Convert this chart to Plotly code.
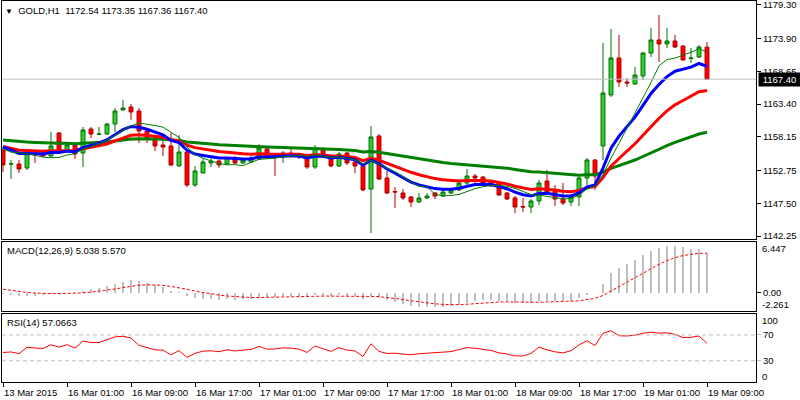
import plotly.graph_objects as go
import numpy as np

# ---------------- data ----------------
open_ = [1156.04, 1153.78, 1153.80, 1153.16, 1155.56, 1155.56, 1155.08, 1158.77, 1155.88, 1156.85,
         1155.56, 1159.41, 1158.53, 1158.61, 1160.21, 1162.46, 1162.94, 1162.30, 1159.09, 1157.97,
         1156.85, 1156.69, 1153.48, 1155.72, 1150.43, 1152.36, 1153.96, 1154.28, 1153.80, 1154.76,
         1153.96, 1154.12, 1154.60, 1156.21, 1155.08, 1154.92, 1155.56, 1155.40, 1154.92, 1153.32,
         1156.21, 1155.08, 1153.48, 1155.56, 1154.12, 1153.48, 1149.79, 1158.29, 1151.55, 1149.39,
         1149.15, 1148.51, 1147.70, 1148.35, 1149.15, 1148.67, 1149.15, 1149.63, 1150.75, 1151.87,
         1151.71, 1150.91, 1150.75, 1149.15, 1148.35, 1146.98, 1146.90, 1147.86, 1151.07, 1149.63,
         1148.18, 1147.70, 1148.51, 1151.55, 1154.44, 1156.69, 1164.87, 1170.80, 1166.95, 1166.63,
         1167.91, 1171.60, 1173.69, 1173.05, 1173.53, 1172.72, 1170.72, 1170.96, 1172.54]
high = [1156.53, 1154.44, 1154.44, 1156.21, 1155.72, 1155.72, 1158.93, 1158.93, 1157.17, 1157.17,
        1159.73, 1159.73, 1159.73, 1160.38, 1162.78, 1164.06, 1163.42, 1162.78, 1159.25, 1158.13,
        1158.13, 1158.77, 1158.45, 1155.88, 1153.48, 1154.60, 1154.92, 1154.44, 1154.92, 1155.08,
        1154.60, 1155.08, 1157.01, 1156.37, 1155.24, 1155.88, 1156.37, 1155.56, 1155.08, 1156.85,
        1156.53, 1155.24, 1155.72, 1155.72, 1154.28, 1153.96, 1159.89, 1158.61, 1152.68, 1150.11,
        1149.79, 1148.67, 1149.15, 1149.15, 1149.31, 1149.95, 1149.79, 1151.07, 1153.00, 1152.20,
        1151.87, 1151.07, 1150.91, 1149.31, 1148.67, 1148.35, 1148.18, 1151.23, 1152.84, 1150.43,
        1150.75, 1148.99, 1151.71, 1154.76, 1154.60, 1173.21, 1175.45, 1174.49, 1167.59, 1169.36,
        1171.76, 1175.61, 1177.70, 1175.61, 1174.49, 1172.88, 1172.40, 1172.88, 1173.35]
low = [1152.52, 1151.39, 1152.36, 1152.84, 1153.96, 1154.92, 1154.76, 1155.56, 1155.56, 1154.60,
       1153.32, 1157.97, 1158.45, 1158.45, 1158.93, 1162.40, 1160.86, 1157.17, 1157.17, 1155.88,
       1155.08, 1153.48, 1153.40, 1150.11, 1150.11, 1152.30, 1153.32, 1153.16, 1153.64, 1153.80,
       1153.80, 1153.96, 1154.44, 1154.60, 1151.87, 1153.96, 1155.08, 1154.60, 1153.00, 1153.00,
       1154.76, 1153.32, 1153.32, 1153.64, 1152.36, 1149.47, 1142.73, 1151.23, 1148.99, 1146.74,
       1148.03, 1146.90, 1147.54, 1148.18, 1148.18, 1148.51, 1148.99, 1149.47, 1150.43, 1150.43,
       1150.27, 1150.11, 1148.67, 1148.03, 1145.94, 1146.10, 1145.94, 1147.22, 1149.15, 1147.06,
       1147.22, 1147.06, 1147.06, 1150.43, 1149.63, 1154.44, 1164.54, 1166.15, 1166.15, 1166.47,
       1167.27, 1170.96, 1170.16, 1172.40, 1172.40, 1170.32, 1170.00, 1170.80, 1167.36]
close = [1153.64, 1153.85, 1153.00, 1155.56, 1155.24, 1155.08, 1156.69, 1155.72, 1156.85, 1155.40,
         1159.25, 1158.61, 1158.61, 1160.21, 1162.30, 1162.78, 1162.14, 1159.09, 1157.97, 1156.69,
         1156.53, 1153.64, 1155.72, 1150.43, 1152.68, 1154.12, 1154.28, 1153.64, 1154.76, 1153.96,
         1154.44, 1154.76, 1156.37, 1154.92, 1155.00, 1155.56, 1155.40, 1154.92, 1153.32, 1156.37,
         1154.92, 1153.48, 1155.40, 1153.96, 1153.48, 1149.63, 1158.13, 1151.39, 1149.15, 1149.31,
         1148.35, 1147.70, 1148.35, 1148.67, 1148.67, 1149.31, 1149.63, 1150.75, 1151.87, 1151.55,
         1150.75, 1150.27, 1148.83, 1148.18, 1146.90, 1146.90, 1147.86, 1150.75, 1149.31, 1148.18,
         1147.54, 1148.51, 1151.55, 1154.44, 1151.87, 1165.19, 1170.80, 1166.95, 1166.79, 1168.07,
         1171.60, 1173.69, 1173.05, 1173.53, 1172.56, 1170.48, 1170.80, 1172.56, 1167.40]

time_labels = ["13 Mar 2015", "16 Mar 01:00", "16 Mar 09:00", "16 Mar 17:00", "17 Mar 01:00",
               "17 Mar 09:00", "17 Mar 17:00", "18 Mar 01:00", "18 Mar 09:00", "18 Mar 17:00",
               "19 Mar 01:00", "19 Mar 09:00"]
time_label_bars = [0, 8, 16, 24, 32, 40, 48, 56, 64, 72, 80, 88]

price_ticks = [1179.30, 1173.90, 1168.65, 1163.40, 1158.15, 1152.75, 1147.50, 1142.25]

# moving-average settings and their values at the first visible bar
sma_fast_period = 8
sma_fast_head = [1156.2, 1155.7, 1155.6, 1155.5, 1155.2, 1154.9, 1154.8]
ema_blue_period, ema_blue_seed = 10, 1156.53
ema_red_period, ema_red_seed = 20, 1156.60
ema_slow_period, ema_slow_seed = 60, 1157.65

# MACD / RSI settings and states at the first visible bar
macd_fast, macd_slow, macd_sig = 12, 26, 9
ema12_seed, ema26_seed, signal_seed = 1155.60, 1155.80, 0.45
rsi_period, rsi_gain_seed, rsi_loss_seed = 14, 0.45, 0.60

macd_top_label, macd_bottom_label = 6.447, -2.261
macd_last, signal_last = 5.038, 5.570
rsi_last = 57.0663
symbol = "GOLD,H1"

# ---------------- indicators ----------------
n = len(close)
x = list(range(n))
c = np.array(close)


def ema(values, period, seed):
    a = 2.0 / (period + 1)
    out = [seed]
    for v in values[1:]:
        out.append(out[-1] + a * (v - out[-1]))
    return np.array(out)


sma_fast = list(sma_fast_head) + [c[i - sma_fast_period + 1:i + 1].mean()
                                  for i in range(len(sma_fast_head), n)]
ema_blue = ema(c, ema_blue_period, ema_blue_seed)
ema_red = ema(c, ema_red_period, ema_red_seed)
ema_slow = ema(c, ema_slow_period, ema_slow_seed)

macd = ema(c, macd_fast, ema12_seed) - ema(c, macd_slow, ema26_seed)
signal = ema(macd, macd_sig, signal_seed)

ag, al = rsi_gain_seed, rsi_loss_seed
rsi = [100 - 100 / (1 + ag / al)]
for i in range(1, n):
    ch = c[i] - c[i - 1]
    ag = (ag * (rsi_period - 1) + max(ch, 0)) / rsi_period
    al = (al * (rsi_period - 1) + max(-ch, 0)) / rsi_period
    rsi.append(100 - 100 / (1 + ag / al))

# ---------------- figure ----------------
FONT = "Liberation Sans, Arial, sans-serif"
FS = 9.5
W, H = 800, 400
x_dom = [2 / W, 756 / W]

fig = go.Figure()
fig.add_trace(go.Candlestick(
    x=x, open=open_, high=high, low=low, close=close,
    increasing=dict(line=dict(color="#007000", width=1), fillcolor="#32CD32"),
    decreasing=dict(line=dict(color="#B00000", width=1), fillcolor="#FF0000"),
    whiskerwidth=0, xaxis="x", yaxis="y", showlegend=False, hoverinfo="skip"))

fig.add_trace(go.Scatter(x=x, y=ema_slow, mode="lines", line=dict(color="#008000", width=3),
                         xaxis="x", yaxis="y", showlegend=False))
fig.add_trace(go.Scatter(x=x, y=ema_red, mode="lines", line=dict(color="#FF0000", width=3),
                         xaxis="x", yaxis="y", showlegend=False))
fig.add_trace(go.Scatter(x=x, y=ema_blue, mode="lines", line=dict(color="#0000FF", width=3),
                         xaxis="x", yaxis="y", showlegend=False))
fig.add_trace(go.Scatter(x=x, y=sma_fast, mode="lines", line=dict(color="#008000", width=1),
                         xaxis="x", yaxis="y", showlegend=False))

fig.add_trace(go.Bar(x=x, y=macd, width=0.13, marker=dict(color="#C0C0C0", line=dict(width=0)),
                     xaxis="x2", yaxis="y2", showlegend=False))
fig.add_trace(go.Scatter(x=x, y=signal, mode="lines", line=dict(color="#FF0000", width=1, dash="3px,2px"),
                         xaxis="x2", yaxis="y2", showlegend=False))

fig.add_trace(go.Scatter(x=x, y=rsi, mode="lines", line=dict(color="#FF0000", width=1),
                         xaxis="x3", yaxis="y3", showlegend=False))

axis_common = dict(showline=True, mirror=True, linecolor="black", linewidth=1,
                   showgrid=False, zeroline=False, fixedrange=True)
xrange = [-0.125, 94.125]

fig.update_layout(
    width=W, height=H, margin=dict(l=0, r=0, t=0, b=0),
    paper_bgcolor="white", plot_bgcolor="white", bargap=0,
    font=dict(family=FONT, size=FS, color="black"),
    xaxis=dict(domain=x_dom, range=xrange, anchor="y", showticklabels=False,
               rangeslider=dict(visible=False), **axis_common),
    xaxis2=dict(domain=x_dom, range=xrange, anchor="y2", matches="x", showticklabels=False, **axis_common),
    xaxis3=dict(domain=x_dom, range=xrange, anchor="y3", matches="x", showticklabels=False,
                tickvals=time_label_bars, ticks="outside", ticklen=4, tickcolor="black", **axis_common),
    yaxis=dict(domain=[161 / H, 399 / H], range=[1141.77, 1179.94], side="right", anchor="x",
               tickvals=price_ticks, ticktext=[f"{v:.2f}" for v in price_ticks],
               ticklabeloverflow="allow", automargin=False,
               ticks="outside", ticklen=4, tickcolor="black", **axis_common),
    yaxis2=dict(domain=[89.3 / H, 158.5 / H], range=[-2.31, 6.57], side="right", anchor="x2",
                tickvals=[0], ticktext=["0.00"], ticklabeloverflow="allow", automargin=False,
                ticks="outside", ticklen=4, tickcolor="black", **axis_common),
    yaxis3=dict(domain=[18.5 / H, 86.5 / H], range=[-2.1, 103.3], side="right", anchor="x3",
                tickvals=[70, 30], ticktext=["70", "30"], ticklabeloverflow="allow", automargin=False,
                ticks="outside", ticklen=4, tickcolor="#C0C0C0", **axis_common),
)

# last price line and label
fig.add_shape(type="line", xref="x domain", x0=0, x1=1, yref="y", y0=close[-1], y1=close[-1],
              line=dict(color="#C0C0C0", width=1))
for lv in (70, 30):
    fig.add_shape(type="line", xref="x3 domain", x0=0, x1=1, yref="y3", y0=lv, y1=lv,
                  line=dict(color="#C0C0C0", width=1, dash="4px,3px"))

ann = []
ann.append(dict(xref="paper", x=758 / W, xanchor="left", yref="y", y=close[-1], yanchor="middle",
                text=f"&nbsp;{close[-1]:.2f}&nbsp;", showarrow=False, bgcolor="black", borderpad=1,
                font=dict(color="white", size=FS, family=FONT)))
ann.append(dict(xref="paper", x=3 / W, xanchor="left", yref="paper", y=1 - 10 / H, yanchor="middle",
                text=f"<span style='font-size:8px'>▼</span>  {symbol}  {open_[-1]:.2f} {high[-1]:.2f} "
                     f"{low[-1]:.2f} {close[-1]:.2f}",
                showarrow=False, font=dict(size=FS, family=FONT, color="black")))
ann.append(dict(xref="paper", x=5 / W, xanchor="left", yref="paper", y=1 - 250 / H, yanchor="middle",
                text=f"MACD({macd_fast},{macd_slow},{macd_sig}) {macd_last:.3f} {signal_last:.3f}",
                showarrow=False, font=dict(size=FS, family=FONT)))
ann.append(dict(xref="paper", x=5 / W, xanchor="left", yref="paper", y=1 - 322 / H, yanchor="middle",
                text=f"RSI({rsi_period}) {rsi_last:.4f}", showarrow=False, font=dict(size=FS, family=FONT)))
ann.append(dict(xref="paper", x=760 / W, xanchor="left", yref="y2", y=macd_top_label, yshift=-6,
                yanchor="middle", text=f"{macd_top_label:.3f}", showarrow=False))
ann.append(dict(xref="paper", x=760 / W, xanchor="left", yref="y2", y=macd_bottom_label, yshift=6,
                yanchor="middle", text=f"{macd_bottom_label:.3f}", showarrow=False))
ann.append(dict(xref="paper", x=760 / W, xanchor="left", yref="y3", y=100, yshift=-5,
                yanchor="middle", text="100", showarrow=False))
ann.append(dict(xref="paper", x=760 / W, xanchor="left", yref="y3", y=0, yshift=4,
                yanchor="middle", text="0", showarrow=False))
for b, t in zip(time_label_bars, time_labels):
    ann.append(dict(xref="x3", x=b, xanchor="left", xshift=-1, yref="paper", y=1 - 392 / H,
                    yanchor="middle", text=t, showarrow=False))
fig.update_layout(annotations=ann)

fig.write_html("out.html", config={"displayModeBar": False, "staticPlot": True},
               post_script="document.body.style.margin='0';document.body.style.overflow='hidden';")
